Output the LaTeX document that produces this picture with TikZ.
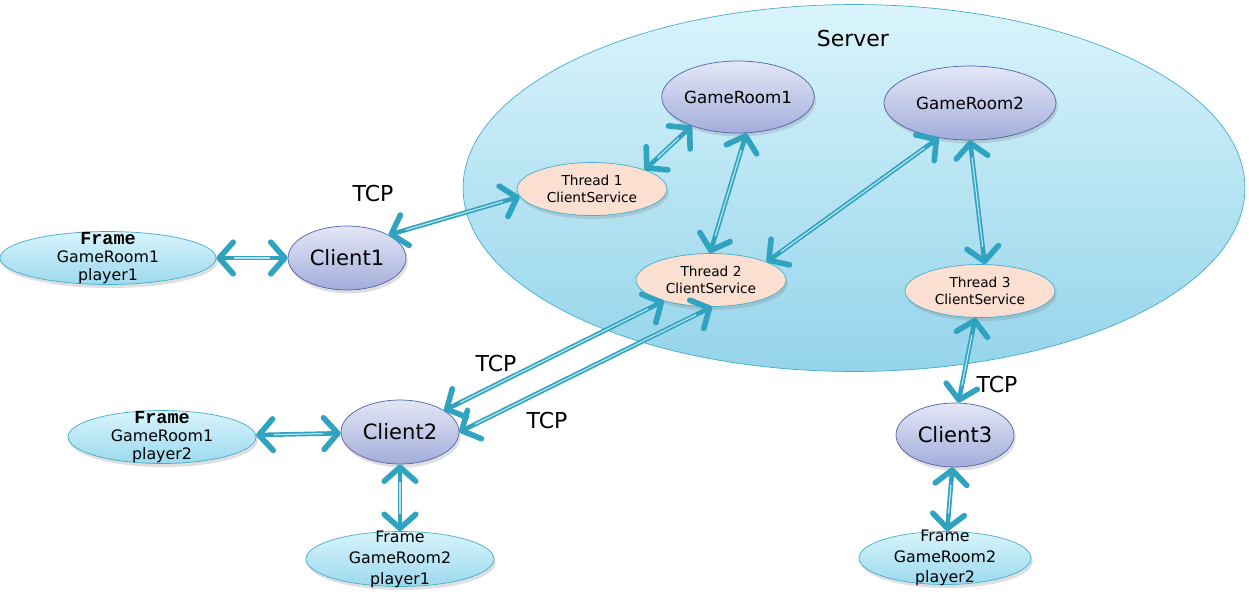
\documentclass[tikz,border=0pt]{standalone}
\usepackage{fontspec}
\setmainfont{DejaVu Sans}
\newfontfamily\framefont{Liberation Mono}
\newcommand{\monoframe}{\framefont\bfseries\fontsize{10.5}{10.4}\selectfont}
\usetikzlibrary{shapes.geometric, arrows.meta, shadows}

\definecolor{linkblue}{HTML}{2FA3C0}
\definecolor{linkpale}{HTML}{B8E4F0}
\definecolor{servertop}{HTML}{DAF4FC}
\definecolor{serverbot}{HTML}{94D4EA}
\definecolor{serverline}{HTML}{45ADCC}
\definecolor{roomtop}{HTML}{E4E7F7}
\definecolor{roombot}{HTML}{A3ADDA}
\definecolor{roomline}{HTML}{4F62A8}
\definecolor{threadfill}{HTML}{FBDFD0}
\definecolor{frametop}{HTML}{D8F4FC}
\definecolor{framebot}{HTML}{9CD9EE}

\begin{document}
\begin{tikzpicture}[x=0.02cm, y=-0.02cm,
    shade/.style={drop shadow={shadow xshift=1pt, shadow yshift=-2pt, opacity=0.25}},
    room/.style={ellipse, shade, draw=roomline, top color=roomtop, bottom color=roombot,
        inner sep=0pt, minimum height=1.44cm, font=\fontsize{9.5}{11}\selectfont},
    client/.style={ellipse, shade, draw=roomline, top color=roomtop, bottom color=roombot,
        inner sep=0pt, minimum width=2.36cm, minimum height=1.28cm, font=\fontsize{12}{14}\selectfont},
    thread/.style={ellipse, shade, draw=serverline, fill=threadfill, inner sep=0pt,
        minimum width=3cm, minimum height=1.06cm, align=center,
        font=\fontsize{7.8}{9.5}\selectfont},
    frame/.style={ellipse, shade, draw=serverline, top color=frametop, bottom color=framebot,
        inner sep=0pt, minimum height=1.06cm},
    framelabel/.style={align=center, inner sep=0pt, font=\fontsize{9}{10.4}\selectfont},
    tcp/.style={font=\fontsize{12.5}{14}\selectfont},
    link/.style={draw=linkblue, line width=2.6pt,
        {Straight Barb[length=8pt, width=18pt, line width=3.2pt, round]}-{Straight Barb[length=8pt, width=18pt, line width=3.2pt, round]},
        postaction={draw=linkpale, line width=0.7pt, shorten >=10pt, shorten <=10pt, -}}
]
    \useasboundingbox (0,0) rectangle (1249,610);

    % Server
    \node[ellipse, draw=serverline, top color=servertop, bottom color=serverbot,
        minimum width=15.64cm, minimum height=7.34cm] (server) at (854,188) {};
    \node[font=\fontsize{12.5}{14}\selectfont] (servertitle) at (853,38) {Server};

    \node[room, minimum width=2.84cm] (gr1) at (738,97) {GameRoom1};
    \node[room, minimum width=3.44cm, minimum height=1.48cm] (gr2) at (970,103) {GameRoom2};

    \node[thread] (t1) at (592,189) {Thread 1\\ClientService};
    \node[thread] (t2) at (711,280) {Thread 2\\ClientService};
    \node[thread] (t3) at (980,291) {Thread 3\\ClientService};

    % Clients
    \node[client] (c1) at (347,258) {Client1};
    \node[client] (c2) at (400,432) {Client2};
    \node[client] (c3) at (955,435) {Client3};

    % Frames
    \node[frame, minimum width=4.32cm,
        label={[framelabel]center:{{\monoframe Frame}\\GameRoom1\\player1}}] (f11) at (108,258) {};
    \node[frame, minimum width=3.76cm,
        label={[framelabel]center:{{\monoframe Frame}\\GameRoom1\\player2}}] (f12) at (162,437) {};
    \node[frame, minimum width=3.76cm, minimum height=1.1cm,
        label={[framelabel, font=\fontsize{9}{12}\selectfont]center:{Frame\\GameRoom2\\player1}}] (f21) at (400,559) {};
    \node[frame, minimum width=3.44cm,
        label={[framelabel, font=\fontsize{9}{11.5}\selectfont]center:{Frame\\GameRoom2\\player2}}] (f22) at (945,558) {};

    % TCP labels
    \node[tcp] (tcp1) at (373,193) {TCP};
    \node[tcp] (tcp2) at (496,363) {TCP};
    \node[tcp] (tcp3) at (547,420) {TCP};
    \node[tcp] (tcp4) at (997,384) {TCP};

    % Connections
    \draw[link] (f11) -- (c1);
    \draw[link] (c1.29) -- (t1.186);
    \draw[link] (t1.20) -- (gr1.212);
    \draw[link] (gr1.283) -- (t2.92);
    \draw[link] (t2.18) -- (gr2.228);
    \draw[link] (gr2.south) -- (t3.80);
    \draw[link] (t2.204) -- (c2.26);
    \draw[link] (t2.272) -- (c2.0);
    \draw[link] (t3.260) -- (c3.84);
    \draw[link] (f12) -- (c2);
    \draw[link] (c2) -- (f21);
    \draw[link] (c3) -- (f22);
\end{tikzpicture}
\end{document}
